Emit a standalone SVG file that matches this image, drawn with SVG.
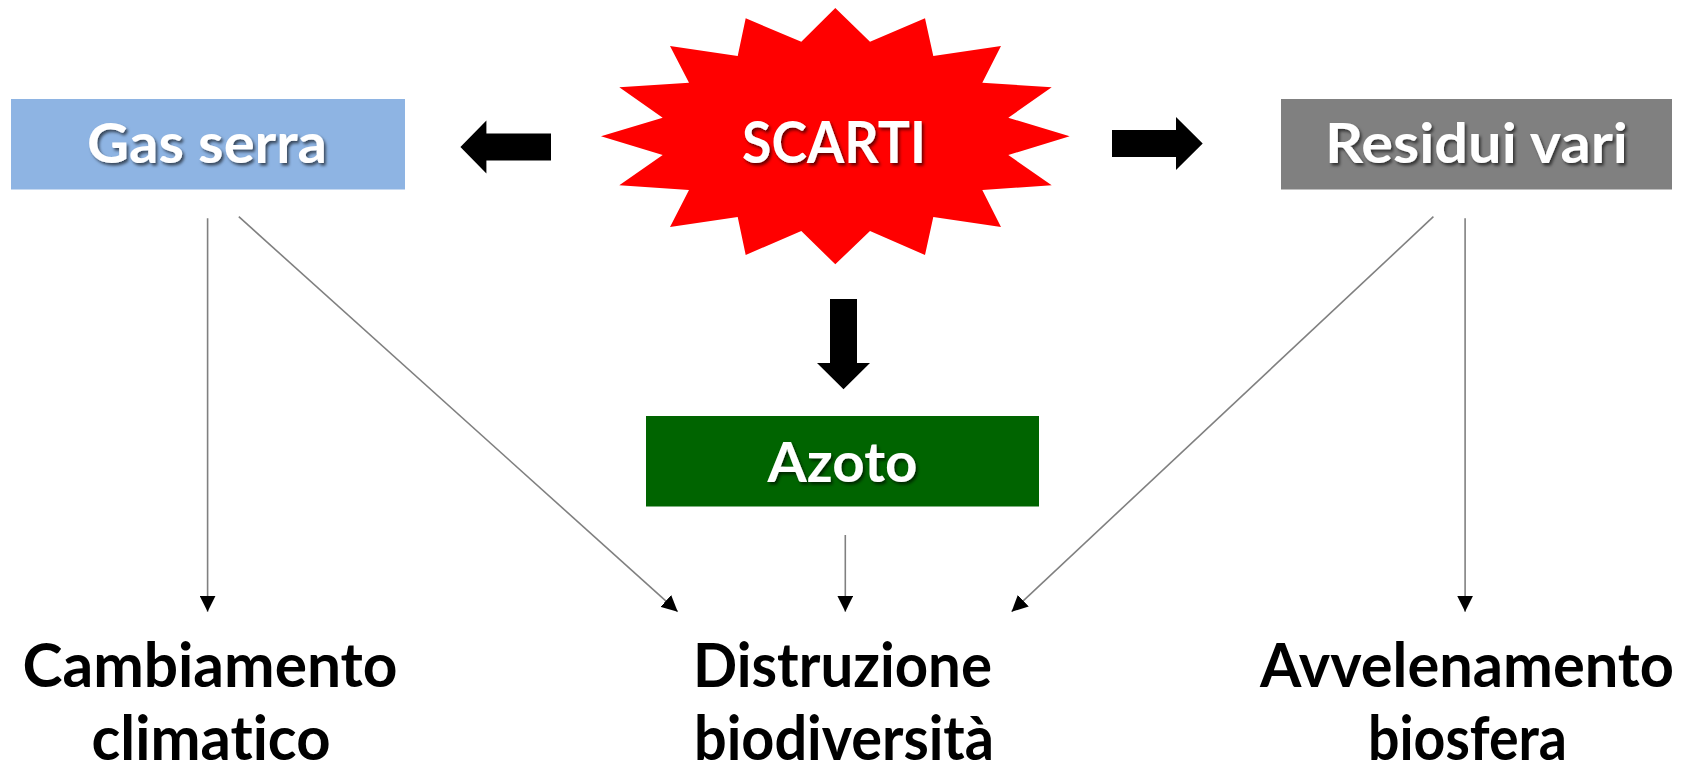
<svg xmlns="http://www.w3.org/2000/svg" width="1687" height="765" viewBox="0 0 1687 765">
<defs>
<style>
.lbl{font-family:Lato,"Open Sans","Liberation Sans",sans-serif;font-weight:bold;text-anchor:middle;font-variant-ligatures:none;font-feature-settings:"liga" 0}
.w{fill:#ffffff;filter:url(#sh)}
.k{fill:#000000}
.conn{stroke:#808080;stroke-width:1.6;fill:none;marker-end:url(#ah)}
.block{fill:#000000}
</style>
<filter id="sh" x="-10%" y="-20%" width="130%" height="150%">
<feDropShadow dx="2" dy="2.5" stdDeviation="1.5" flood-color="#000000" flood-opacity="0.6"/>
</filter>
<marker id="ah" viewBox="0 0 10 10" refX="10" refY="5" markerWidth="16" markerHeight="16" markerUnits="userSpaceOnUse" orient="auto">
<path d="M0,0 L10,5 L0,10 z" fill="#000000"/>
</marker>
</defs>
<rect width="1687" height="765" fill="#ffffff"/>

<g id="scarti">
<polygon fill="#FF0000" points="835.3,8 870,41.7 925,18.3 933.3,56 1001,46 982.3,82.7 1051.7,87.3 1008.3,117.7 1069.7,136.3 1008.3,155 1051.7,185.3 982.3,190 1001,227 933.3,217 925,255 870,231 835.3,264.3 801.3,231 745.7,255 737.7,217 670,227 689,190 619.3,185.3 662.7,155 601,136.3 662.7,117.7 619.3,87.3 689,82.7 670,46 737.7,56 745.7,18.3 801.3,41.7"/>
<text class="lbl w" x="834" y="162.7" font-size="57" textLength="184" lengthAdjust="spacingAndGlyphs">SCARTI</text>
</g>

<g id="gas-serra">
<rect x="11" y="99" width="394" height="90.5" fill="#8EB4E3"/>
<text class="lbl w" x="207" y="163.3" font-size="56" textLength="240" lengthAdjust="spacingAndGlyphs">Gas serra</text>
</g>

<g id="residui-vari">
<rect x="1281" y="99" width="391" height="90.5" fill="#808080"/>
<text class="lbl w" x="1476.5" y="163.3" font-size="56" textLength="303" lengthAdjust="spacingAndGlyphs">Residui vari</text>
</g>

<g id="azoto">
<rect x="646" y="416" width="393" height="90.5" fill="#006400"/>
<text class="lbl w" x="842.5" y="481.7" font-size="55" textLength="150" lengthAdjust="spacingAndGlyphs">Azoto</text>
</g>

<g id="cambiamento-climatico">
<text class="lbl k" x="210" y="686.7" font-size="60.5" textLength="375" lengthAdjust="spacingAndGlyphs">Cambiamento</text>
<text class="lbl k" x="211" y="760" font-size="60.5" textLength="239" lengthAdjust="spacingAndGlyphs">climatico</text>
</g>

<g id="distruzione-biodiversita">
<text class="lbl k" x="842.5" y="686.7" font-size="60.5" textLength="299" lengthAdjust="spacingAndGlyphs">Distruzione</text>
<text class="lbl k" x="844" y="760" font-size="60.5" textLength="300" lengthAdjust="spacingAndGlyphs">biodiversità</text>
</g>

<g id="avvelenamento-biosfera">
<text class="lbl k" x="1467" y="686.7" font-size="60.5" textLength="414" lengthAdjust="spacingAndGlyphs">Avvelenamento</text>
<text class="lbl k" x="1467.5" y="760" font-size="60.5" textLength="199" lengthAdjust="spacingAndGlyphs">biosfera</text>
</g>

<g id="connectors">
<polygon class="block" points="551,133.5 486.4,133.5 486.4,120.5 460.4,147 486.4,173.5 486.4,160.5 551,160.5"/>
<polygon class="block" points="1112,130 1176,130 1176,117 1202.7,143.5 1176,170 1176,157 1112,157"/>
<polygon class="block" points="830,299 857,299 857,363 870,363 843.5,389.3 817,363 830,363"/>
<line class="conn" x1="207.6" y1="218.3" x2="207.6" y2="611.7"/>
<line class="conn" x1="238.8" y1="216.7" x2="677.7" y2="611.7"/>
<line class="conn" x1="845.3" y1="535" x2="845.3" y2="611.7"/>
<line class="conn" x1="1433.4" y1="216.7" x2="1011.6" y2="611.7"/>
<line class="conn" x1="1465.1" y1="218.3" x2="1465.1" y2="611.7"/>
</g>
</svg>
